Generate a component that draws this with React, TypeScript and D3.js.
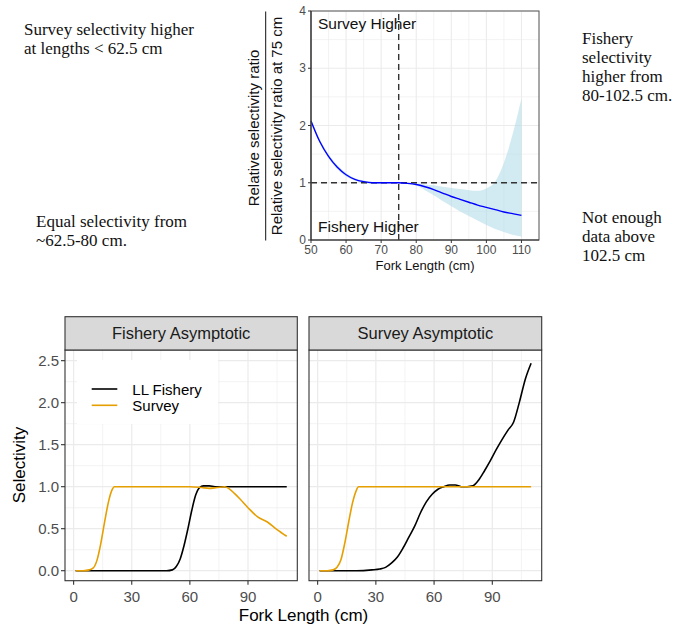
import * as d3 from 'd3';

// top panel: relative selectivity ratio (survey / fishery), scaled at 75 cm
const ratioLengths = [50, 52.5, 55, 57.5, 60, 62.5, 65, 67.5, 70, 72.5, 75, 77.5, 80, 82.5, 85, 87.5, 90, 92.5, 95, 97.5, 100, 102.5, 105, 107.5, 110];
const ratioFit = [2.08, 1.72, 1.46, 1.27, 1.14, 1.06, 1.02, 1.0, 1.0, 1.0, 1.0, 0.99, 0.97, 0.93, 0.88, 0.82, 0.76, 0.71, 0.66, 0.61, 0.57, 0.53, 0.49, 0.46, 0.43];
const ratioUpper = [2.12, 1.76, 1.5, 1.31, 1.17, 1.08, 1.04, 1.01, 1.01, 1.0, 1.0, 1.0, 0.99, 0.97, 0.955, 0.93, 0.91, 0.89, 0.87, 0.86, 0.9, 1.02, 1.35, 1.85, 2.47];
const ratioLower = [2.04, 1.69, 1.43, 1.24, 1.11, 1.04, 0.99, 0.98, 0.98, 0.99, 1.0, 0.98, 0.95, 0.87, 0.78, 0.68, 0.59, 0.5, 0.42, 0.34, 0.26, 0.19, 0.14, 0.09, 0.06];
const ratioXTicks = [50, 60, 70, 80, 90, 100, 110];
const ratioYTicks = [0, 1, 2, 3, 4];

// bottom panels: selectivity curves
const facetNames = ['Fishery Asymptotic', 'Survey Asymptotic'];
const seriesNames = ['LL Fishery', 'Survey'];
const seriesColors = ['#000000', '#E69F00'];

const fishAsymLLx = [1, 10, 20, 30, 40, 48, 51, 53, 55, 57, 59, 61, 63, 65, 67, 70, 73, 76, 80, 90, 100, 110];
const fishAsymLLy = [0, 0, 0, 0, 0, 0, 0.01, 0.05, 0.14, 0.3, 0.5, 0.72, 0.9, 0.99, 1.01, 1.01, 1.0, 1.0, 1.0, 1.0, 1.0, 1.0];
const fishAsymSvx = [1, 5, 8, 10, 12, 14, 16, 18, 20, 21, 25, 40, 60, 66, 70, 74, 78, 80, 83, 86, 90, 95, 100, 105, 110];
const fishAsymSvy = [0, 0, 0.01, 0.03, 0.12, 0.32, 0.58, 0.82, 0.97, 1.0, 1.0, 1.0, 1.0, 0.99, 0.98, 0.99, 1.0, 0.98, 0.92, 0.85, 0.75, 0.64, 0.58, 0.49, 0.41];
const survAsymLLx = [1, 10, 20, 28, 32, 35, 38, 41, 44, 47, 50, 53, 56, 59, 62, 65, 68, 71, 74, 77, 80, 83, 86, 89, 92, 95, 98, 101, 104, 107, 110];
const survAsymLLy = [0, 0, 0, 0.01, 0.02, 0.04, 0.09, 0.16, 0.27, 0.4, 0.53, 0.69, 0.82, 0.91, 0.97, 1.0, 1.02, 1.02, 1.0, 1.0, 1.01, 1.08, 1.19, 1.31, 1.44, 1.56, 1.67, 1.77, 2.01, 2.28, 2.47];
const survAsymSvx = [1, 5, 8, 10, 12, 14, 16, 18, 20, 21, 25, 40, 60, 80, 100, 110];
const survAsymSvy = [0, 0, 0.01, 0.04, 0.13, 0.33, 0.58, 0.81, 0.96, 1.0, 1.0, 1.0, 1.0, 1.0, 1.0, 1.0];
const selXTicks = [0, 30, 60, 90];
const selXMinor = [15, 45, 75, 105];
const selYTicks = [0, 0.5, 1, 1.5, 2, 2.5];

const leftNotes = [
  { lines: ['Survey selectivity higher', 'at lengths < 62.5 cm'], x: 24, y: 34.5 },
  { lines: ['Equal selectivity from', '~62.5-80 cm.'], x: 36, y: 227 },
];
const rightNotes = [
  { lines: ['Fishery', 'selectivity', 'higher from', '80-102.5 cm.'], x: 582, y: 43.5 },
  { lines: ['Not enough', 'data above', '102.5 cm'], x: 582, y: 222.5 },
];

const SANS = '"Liberation Sans", Arial, sans-serif';
const SERIF = '"Liberation Serif", "Times New Roman", serif';
const GRID = '#EBEBEB';
const AXIS_TXT = '#4D4D4D';

const zip = (xs: number[], ys: number[]) => xs.map((x, i) => [x, ys[i]] as [number, number]);

function RatioPanel() {
  const x = d3.scaleLinear().domain([50, 115]).range([311, 539]);
  const y = d3.scaleLinear().domain([0, 4]).range([240, 11]);
  const pts = ratioLengths.map((l, i) => ({ l, fit: ratioFit[i], lo: ratioLower[i], hi: ratioUpper[i] }));
  const area = d3.area<any>().x(d => x(d.l)).y0(d => y(d.lo)).y1(d => y(d.hi)).curve(d3.curveMonotoneX);
  const line = d3.line<any>().x(d => x(d.l)).y(d => y(d.fit)).curve(d3.curveMonotoneX);
  const minorX = d3.range(55, 116, 10);
  const minorY = d3.range(0.5, 4, 1);
  const [x0, x1] = x.range();
  const [y0, y1] = y.range();
  return (
    <g>
      {minorX.map(v => <line key={'mx' + v} x1={x(v)} x2={x(v)} y1={y0} y2={y1} stroke={GRID} strokeWidth={0.6} />)}
      {minorY.map(v => <line key={'my' + v} x1={x0} x2={x1} y1={y(v)} y2={y(v)} stroke={GRID} strokeWidth={0.6} />)}
      {ratioXTicks.map(v => <line key={'gx' + v} x1={x(v)} x2={x(v)} y1={y0} y2={y1} stroke={GRID} strokeWidth={1.1} />)}
      {ratioYTicks.map(v => <line key={'gy' + v} x1={x0} x2={x1} y1={y(v)} y2={y(v)} stroke={GRID} strokeWidth={1.1} />)}
      <path d={area(pts) || ''} fill="#ADD8E6" fillOpacity={0.55} />
      <line x1={x0} x2={x1} y1={y(1)} y2={y(1)} stroke="#333" strokeWidth={1.4} strokeDasharray="6,4" />
      <line x1={x(75)} x2={x(75)} y1={y0} y2={y1} stroke="#333" strokeWidth={1.4} strokeDasharray="6,4" />
      <path d={line(pts) || ''} fill="none" stroke="#0000FF" strokeWidth={1.4} />
      <rect x={x0} y={y1} width={x1 - x0} height={y0 - y1} fill="none" stroke="#555" strokeWidth={1} />
      <line x1={x0} x2={x0} y1={y1} y2={y0} stroke="#333" strokeWidth={1.2} />
      <line x1={x0} x2={x1} y1={y0} y2={y0} stroke="#333" strokeWidth={1.2} />
      {ratioXTicks.map(v => (
        <g key={'tx' + v}>
          <line x1={x(v)} x2={x(v)} y1={y0} y2={y0 + 3} stroke="#333" />
          <text x={x(v)} y={254} textAnchor="middle" fontSize={12} fill={AXIS_TXT} fontFamily={SANS}>{v}</text>
        </g>
      ))}
      {ratioYTicks.map(v => (
        <g key={'ty' + v}>
          <line x1={x0 - 3} x2={x0} y1={y(v)} y2={y(v)} stroke="#333" />
          <text x={x0 - 5} y={y(v) + 4} textAnchor="end" fontSize={12} fill={AXIS_TXT} fontFamily={SANS}>{v}</text>
        </g>
      ))}
      <text x={318} y={28.5} fontSize={15.5} fontFamily={SANS} fill="#111">Survey Higher</text>
      <text x={318} y={232} fontSize={15.5} fontFamily={SANS} fill="#111">Fishery Higher</text>
      <text x={425} y={270} textAnchor="middle" fontSize={13} fontFamily={SANS} fill="#111">Fork Length (cm)</text>
      <text transform="translate(259,128) rotate(-90)" textAnchor="middle" fontSize={15} fontFamily={SANS} fill="#111">Relative selectivity ratio</text>
      <line x1={265.7} x2={265.7} y1={11.5} y2={240.5} stroke="#111" strokeWidth={1} />
      <text transform="translate(281.5,126) rotate(-90)" textAnchor="middle" fontSize={15} fontFamily={SANS} fill="#111">Relative selectivity ratio at 75 cm</text>
    </g>
  );
}

function SelectivityPanels() {
  const panels = [
    { name: facetNames[0], left: 65, right: 297.3, series: [zip(fishAsymLLx, fishAsymLLy), zip(fishAsymSvx, fishAsymSvy)] },
    { name: facetNames[1], left: 309, right: 541.7, series: [zip(survAsymLLx, survAsymLLy), zip(survAsymSvx, survAsymSvy)] },
  ];
  const stripTop = 316.7;
  const top = 350;
  const bottom = 580.7;
  const y = d3.scaleLinear().domain([-0.119, 2.627]).range([bottom, top]);
  const minorY = d3.range(0.25, 2.6, 0.5);
  return (
    <g>
      {panels.map((p, pi) => {
        const x = d3.scaleLinear().domain([-4.45, 115.45]).range([p.left, p.right]);
        const line = d3.line<[number, number]>().x(d => x(d[0])).y(d => y(d[1])).curve(d3.curveMonotoneX);
        return (
          <g key={p.name}>
            <rect x={p.left} y={top} width={p.right - p.left} height={bottom - top} fill="#fff" />
            {selXMinor.map(v => <line key={'mx' + v} x1={x(v)} x2={x(v)} y1={top} y2={bottom} stroke={GRID} strokeWidth={0.6} />)}
            {minorY.map(v => <line key={'my' + v} x1={p.left} x2={p.right} y1={y(v)} y2={y(v)} stroke={GRID} strokeWidth={0.6} />)}
            {selXTicks.map(v => <line key={'gx' + v} x1={x(v)} x2={x(v)} y1={top} y2={bottom} stroke={GRID} strokeWidth={1.2} />)}
            {selYTicks.map(v => <line key={'gy' + v} x1={p.left} x2={p.right} y1={y(v)} y2={y(v)} stroke={GRID} strokeWidth={1.2} />)}
            {pi === 0 && (
              <g>
                <rect x={77} y={360} width={141} height={64} fill="#fff" />
                {seriesNames.map((s, si) => (
                  <g key={s}>
                    <line x1={91.7} x2={117.3} y1={389 + si * 16.3} y2={389 + si * 16.3} stroke={seriesColors[si]} strokeWidth={1.6} />
                    <text x={132.3} y={394.5 + si * 16.3} fontSize={15} fontFamily={SANS} fill="#000">{s}</text>
                  </g>
                ))}
              </g>
            )}
            {p.series.map((s, si) => (
              <path key={si} d={line(s) || ''} fill="none" stroke={seriesColors[si]} strokeWidth={1.6} />
            ))}
            <rect x={p.left} y={top} width={p.right - p.left} height={bottom - top} fill="none" stroke="#333" strokeWidth={1.1} />
            <rect x={p.left} y={stripTop} width={p.right - p.left} height={top - stripTop} fill="#D9D9D9" stroke="#333" strokeWidth={1.1} />
            <text x={(p.left + p.right) / 2} y={339} textAnchor="middle" fontSize={16.5} fontFamily={SANS} fill="#1A1A1A">{p.name}</text>
            {selXTicks.map(v => (
              <g key={'tx' + v}>
                <line x1={x(v)} x2={x(v)} y1={bottom} y2={bottom + 4} stroke="#333" strokeWidth={1.1} />
                <text x={x(v)} y={602} textAnchor="middle" fontSize={15} fontFamily={SANS} fill={AXIS_TXT}>{v}</text>
              </g>
            ))}
            {pi === 0 && selYTicks.map(v => (
              <g key={'ty' + v}>
                <line x1={p.left - 4} x2={p.left} y1={y(v)} y2={y(v)} stroke="#333" strokeWidth={1.1} />
                <text x={p.left - 6} y={y(v) + 5.2} textAnchor="end" fontSize={15} fontFamily={SANS} fill={AXIS_TXT}>{v.toFixed(1)}</text>
              </g>
            ))}
          </g>
        );
      })}
      <text x={303.5} y={621} textAnchor="middle" fontSize={17} fontFamily={SANS} fill="#000">Fork Length (cm)</text>
      <text transform="translate(25,465) rotate(-90)" textAnchor="middle" fontSize={17} fontFamily={SANS} fill="#000">Selectivity</text>
    </g>
  );
}

export default function App() {
  const notes = [...leftNotes, ...rightNotes];
  return (
    <svg width={673} height={627} style={{ position: 'absolute', left: 0, top: 0, background: '#fff' }}>
      <rect width={673} height={627} fill="#fff" />
      {notes.map((n, i) => (
        <text key={i} fontSize={17} fontFamily={SERIF} fill="#111">
          {n.lines.map((l, j) => (
            <tspan key={j} x={n.x} y={n.y + j * 19}>{l}</tspan>
          ))}
        </text>
      ))}
      <RatioPanel />
      <SelectivityPanels />
    </svg>
  );
}
